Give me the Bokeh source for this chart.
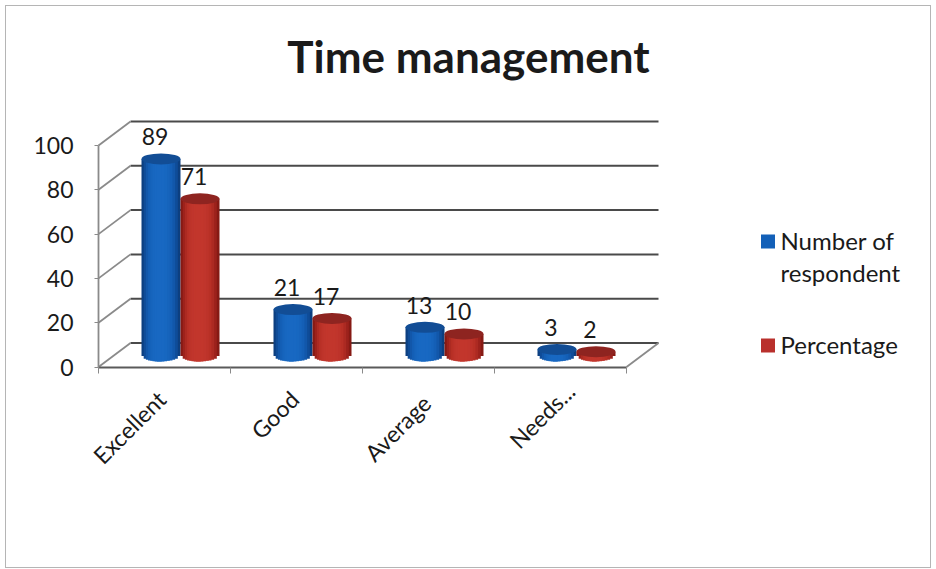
import math
from bokeh.embed import file_html
from bokeh.resources import INLINE
from bokeh.plotting import figure
from bokeh.core.properties import value
from bokeh.models import FixedTicker, LinearAxis, Range1d

# ---- data
categories = ["Excellent", "Good", "Average", "Needs..."]
respondents = [89, 21, 13, 3]
percentages = [71, 17, 10, 2]
series_lines = [["Number of", "respondent"], ["Percentage"]]
value_ticks = [0, 20, 40, 60, 80, 100]
chart_title = "Time management"

# ---- style
FONT = "Lato"
INK = "#1a1a1a"
GRID_COLOR = "#4a4a4a"
SIDE_COLOR = "#8a8a8a"
AXIS_COLOR = "#5a5a5a"
BLUE_SHADES = ["#0c3f80", "#0f4c98", "#1257aa", "#145fb6", "#1664bc", "#1767c0", "#1868c2", "#1868c2"]
RED_SHADES = ["#861a14", "#9c221c", "#ac2a22", "#b83026", "#bd332a", "#c0352c", "#c2362c", "#c2362c"]
BLUE_TOP = "#124d95"
RED_TOP = "#8e2420"
BLUE_KEY = "#1360b8"
RED_KEY = "#b9302c"

# ---- layout (page pixels)
LEFT, RIGHT, TOP, BOTTOM = 6, 930, 6, 567
FRAME_TOP = 82
ORIGIN_X, ORIGIN_Y = 98.0, 366.5
PX_X = 132.0      # pixels per category
PX_Y = 2.215      # pixels per value unit
DEPTH_X = 32 / PX_X
DEPTH_Y = 24 / PX_Y
BAR_W = 39 / PX_X
ELL_H = 11 / PX_Y
LABEL_NUDGE = [-3, -2, -2, 10]      # horizontal pixels, category labels
LABEL_STANDOFF = [22, 22, 26, 14]   # vertical pixels, category labels


def data_x(px):
    return (px - ORIGIN_X) / PX_X


def data_y(py):
    return (ORIGIN_Y - py) / PX_Y


p = figure(width=RIGHT - LEFT, height=BOTTOM - TOP, output_backend="svg", toolbar_location=None,
           x_axis_type=None, y_axis_type=None, min_border=0, min_border_top=FRAME_TOP - TOP,
           x_range=Range1d(data_x(LEFT), data_x(RIGHT)),
           y_range=Range1d(data_y(BOTTOM), data_y(FRAME_TOP)),
           outline_line_color=None, margin=(TOP, 0, 0, LEFT))
p.grid.visible = False
p.styles = {"outline": "1.5px solid #b5b5b5", "outline-offset": "0px"}

p.title.text = chart_title
p.title.text_font = FONT
p.title.text_font_style = "bold"
p.title.text_font_size = "44px"
p.title.text_color = INK
p.title.align = "center"
p.title.offset = 5
p.title.standoff = 1

# walls: gridlines on the back wall and their diagonals to the front axis
p.segment(x0=[DEPTH_X] * len(value_ticks), x1=[len(categories) + DEPTH_X] * len(value_ticks),
          y0=[v + DEPTH_Y for v in value_ticks], y1=[v + DEPTH_Y for v in value_ticks],
          line_color=GRID_COLOR, line_width=2)
p.segment(x0=[0] * len(value_ticks), x1=[DEPTH_X] * len(value_ticks),
          y0=value_ticks, y1=[v + DEPTH_Y for v in value_ticks],
          line_color=SIDE_COLOR, line_width=1.8)
p.segment(x0=[len(categories)], x1=[len(categories) + DEPTH_X], y0=[0], y1=[DEPTH_Y],
          line_color=SIDE_COLOR, line_width=1.8)

# axes
yaxis = LinearAxis(fixed_location=0, ticker=FixedTicker(ticks=value_ticks), bounds=(0, 100))
yaxis.major_label_text_font = FONT
yaxis.major_label_text_font_size = "23px"
yaxis.major_label_text_color = INK
yaxis.major_label_standoff = 21
yaxis.axis_line_color = SIDE_COLOR
yaxis.axis_line_width = 1.8
yaxis.major_tick_line_color = SIDE_COLOR
yaxis.major_tick_out = 4
yaxis.major_tick_in = 0
yaxis.minor_tick_line_color = None
p.add_layout(yaxis, "left")

tick_axis = LinearAxis(fixed_location=0, ticker=FixedTicker(ticks=list(range(len(categories) + 1))),
                       bounds=(0, len(categories)))
tick_axis.major_label_text_font_size = "0px"
tick_axis.major_label_text_color = None
tick_axis.axis_line_color = AXIS_COLOR
tick_axis.axis_line_width = 2
tick_axis.major_tick_line_color = SIDE_COLOR
tick_axis.major_tick_out = 6
tick_axis.major_tick_in = 0
tick_axis.minor_tick_line_color = None
p.add_layout(tick_axis, "below")

for i, (name, nudge, standoff) in enumerate(zip(categories, LABEL_NUDGE, LABEL_STANDOFF)):
    tick = i + 0.5 + nudge / PX_X
    label_axis = LinearAxis(fixed_location=0, ticker=FixedTicker(ticks=[tick]),
                            major_label_overrides={tick: name})
    label_axis.major_label_orientation = math.pi / 4
    label_axis.major_label_text_font = FONT
    label_axis.major_label_text_font_size = "23px"
    label_axis.major_label_text_color = INK
    label_axis.major_label_standoff = standoff
    label_axis.axis_line_color = None
    label_axis.major_tick_line_color = None
    label_axis.minor_tick_line_color = None
    p.add_layout(label_axis, "below")

# cylinders: nested vbars from the dark rim to the bright middle
base = DEPTH_Y / 2 - 0.5


def cylinder(values, offset, shades, top_color):
    centers = [i + 0.5 + DEPTH_X / 2 + offset for i in range(len(values))]
    n = len(shades)
    for k, shade in enumerate(shades):
        frac = 1 - k / n
        drop = ELL_H / 2 * math.sqrt(1 - frac * frac)
        shift = -0.05 * BAR_W * k / n
        p.vbar(x=[c + shift for c in centers], top=[v + base for v in values], bottom=base - drop,
               width=BAR_W * frac, fill_color=shade, line_color=None)
    p.ellipse(x=centers, y=[v + base for v in values], width=BAR_W, height=ELL_H,
              fill_color=top_color, line_color=None)


cylinder(respondents, -BAR_W / 2, BLUE_SHADES, BLUE_TOP)
cylinder(percentages, BAR_W / 2, RED_SHADES, RED_TOP)

# data labels
for values, offset in ((respondents, -BAR_W / 2), (percentages, BAR_W / 2)):
    p.text(x=[i + 0.5 + DEPTH_X / 2 + offset for i in range(len(values))],
           y=[v + base for v in values], text=[str(v) for v in values],
           text_font=value(FONT), text_font_size="23px", text_color=INK,
           text_align="center", text_baseline="middle", x_offset=-6, y_offset=-22)

# legend: key aligned with the first line of a wrapped label, as in the picture
KEY_X, TEXT_X = 767.5, 780
LINE_YS = [[240, 272], [344]]
KEY_YS = [241, 345]
for lines, ys, key_y, color in zip(series_lines, LINE_YS, KEY_YS, [BLUE_KEY, RED_KEY]):
    p.scatter(x=[data_x(KEY_X)], y=[data_y(key_y)], marker="square", size=14,
              fill_color=color, line_color=None)
    p.text(x=[data_x(TEXT_X)] * len(lines), y=[data_y(y) for y in ys], text=lines,
           text_font=value(FONT), text_font_size="24px", text_color=INK,
           text_align="left", text_baseline="middle")

open("out.html", "w").write(file_html(p, INLINE))
